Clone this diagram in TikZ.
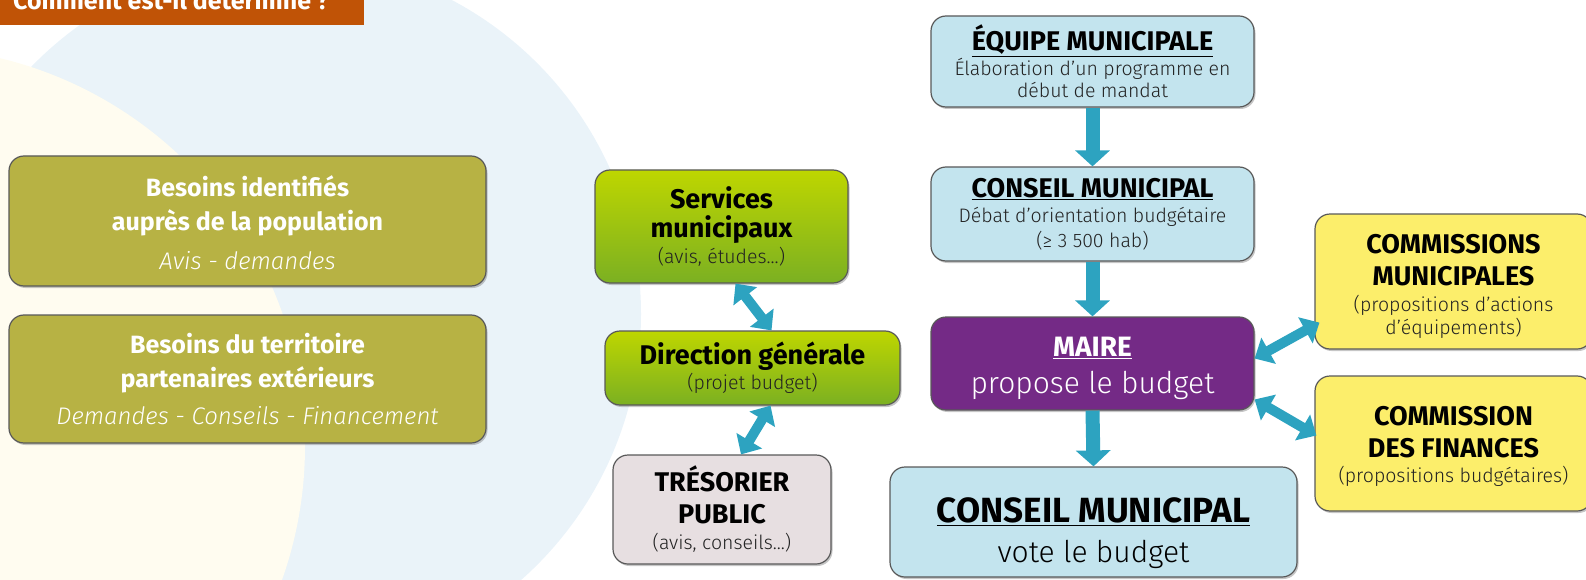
\documentclass[tikz,border=0pt]{standalone}
\usepackage{fontspec}
\setmainfont{Fira Sans}
\newfontfamily\lightfont[ItalicFont={Fira Sans Light Italic}]{Fira Sans Light}
\usetikzlibrary{arrows.meta,shadows,calc}

\definecolor{titleorange}{HTML}{C05306}
\definecolor{bgblue}{HTML}{EAF3F9}
\definecolor{bgcream}{HTML}{FFFCF0}
\definecolor{olive}{HTML}{B7B244}
\definecolor{greentop}{HTML}{BED600}
\definecolor{greenbot}{HTML}{7BB022}
\definecolor{treso}{HTML}{E7DFE1}
\definecolor{lightblue}{HTML}{C3E4EE}
\definecolor{mairepurple}{HTML}{742A86}
\definecolor{commyellow}{HTML}{FCEE6B}
\definecolor{arrowteal}{HTML}{2DA3C0}
\definecolor{subgrey}{HTML}{222222}

\tikzset{
  box/.style={shape=rectangle, rounded corners=15pt, draw=black!65, line width=1.2pt,
    drop shadow={shadow xshift=1.5pt,shadow yshift=-2pt,opacity=0.45},
    align=center, inner sep=0pt},
  lightsize/.style={font=\lightfont\fontsize{19.5}{25}\selectfont},
  flow/.style={draw=arrowteal, line width=14pt, -{Triangle[width=34pt,length=16pt]}},
  swap/.style={draw=arrowteal, line width=10pt,
    {Triangle[width=29pt,length=16pt]}-{Triangle[width=29pt,length=16pt]}},
}
\newcommand{\hd}[1]{{\normalfont\bfseries\fontsize{27}{30}\selectfont #1}}
\newcommand{\sub}[1]{{\color{subgrey}#1}}

\begin{document}
\begin{tikzpicture}[x=1pt,y=-1pt]
\useasboundingbox (0,0) rectangle (1586,580);
\clip (0,0) rectangle (1586,580);

%background discs
\fill[bgblue] (286,314) circle (355pt);
\fill[bgcream] (-94,446) circle (399pt);

%title
\node [shape=rectangle, fill=titleorange, minimum width=364pt, minimum height=25pt, anchor=north west, inner sep=0pt] (titre) at (0,0) {};
\node [anchor=base west, text=white, font=\bfseries\fontsize{25}{30}\selectfont, inner sep=0pt] (titretxt) at (13,10) {Comment est-il déterminé ?};

%needs on the left
\node [box, fill=olive, text=white, font=\bfseries\fontsize{25}{34}\selectfont, minimum width=477pt, minimum height=130pt] at (247.5,221) (besoinsA)
  {\rule{0pt}{24pt}Besoins identifiés\\ auprès de la population\\[5pt]
   {\lightfont\mdseries\itshape\fontsize{24}{28}\selectfont Avis - demandes}};
\node [box, fill=olive, text=white, font=\bfseries\fontsize{25}{34}\selectfont, minimum width=477pt, minimum height=128pt] at (247.5,379) (besoinsB)
  {Besoins du territoire\\ partenaires extérieurs\\[3pt]
   {\lightfont\mdseries\itshape\fontsize{24}{28}\selectfont Demandes - Conseils - Financement}};

%administration
\node [box, lightsize, top color=greentop, bottom color=greenbot, minimum width=253pt, minimum height=113pt] at (721.5,226.5) (serv)
  {\hd{Services}\\[4pt] \hd{municipaux}\\[1pt] \sub{(avis, études...)}};
\node [box, lightsize, top color=greentop, bottom color=greenbot, minimum width=295pt, minimum height=74pt] at (752.5,368) (dir)
  {\hd{Direction générale}\\ \sub{(projet budget)}};
\node [box, lightsize, fill=treso, minimum width=218pt, minimum height=109pt] at (722,509.5) (tres)
  {\hd{TRÉSORIER}\\[7pt] \hd{PUBLIC}\\[1pt] \sub{(avis, conseils...)}};

%main chain
\node [box, lightsize, fill=lightblue, minimum width=323pt, minimum height=91pt] at (1092.5,61.5) (equipe)
  {\hd{\underline{ÉQUIPE MUNICIPALE}}\\ \sub{Élaboration d’un programme en}\\[-3pt] \sub{début de mandat}};
\node [box, lightsize, fill=lightblue, minimum width=323pt, minimum height=94pt] at (1092.5,214) (conseilA)
  {\hd{\underline{CONSEIL MUNICIPAL}}\\ \sub{Débat d’orientation budgétaire}\\ \sub{(≥ 3 500 hab)}};
\node [box, fill=mairepurple, text=white, font=\lightfont\fontsize{30}{37}\selectfont, minimum width=323pt, minimum height=93pt] at (1092.5,363.5) (maire)
  {\rule{0pt}{30pt}{\normalfont\bfseries\fontsize{28}{30}\selectfont\underline{MAIRE}}\\ propose le budget};
\node [box, fill=lightblue, font=\lightfont\fontsize{30}{40}\selectfont, minimum width=407pt, minimum height=110pt] at (1093.5,522) (conseilB)
  {\rule{0pt}{48pt}{\normalfont\bfseries\fontsize{35}{40}\selectfont\underline{CONSEIL MUNICIPAL}}\\
   vote le budget};

%commissions
\node [box, lightsize, fill=commyellow, minimum width=277pt, minimum height=135pt] at (1453.5,281.5) (commA)
  {\rule{0pt}{28pt}\hd{COMMISSIONS}\\[7pt] \hd{MUNICIPALES}\\[1pt] \sub{(propositions d’actions}\\[-2pt] \sub{d’équipements)}};
\node [box, lightsize, fill=commyellow, minimum width=277pt, minimum height=135pt] at (1453.5,443.5) (commB)
  {\rule{0pt}{24pt}\hd{COMMISSION}\\[7pt] \hd{DES FINANCES}\\[0pt] \sub{(propositions budgétaires)}};

%arrows down the chain
\draw [flow] (equipe.south) -- (conseilA.north);
\draw [flow] (conseilA.south) -- (maire.north);
\draw [flow] (maire.south) -- (conseilB.north);

%two way arrows
\draw [swap] ($(serv.south)+(14,0)$) -- ($(dir.north)+(19,0)$);
\draw [swap] ($(dir.south)+(18,0)$) -- ($(tres.north)+(19,0)$);
\draw [swap] ($(maire.east)+(0,-5)$) -- ($(commA.south west)+(5,-27)$);
\draw [swap] ($(maire.east)+(0,36)$) -- ($(commB.west)+(2,-8)$);

\end{tikzpicture}
\end{document}
